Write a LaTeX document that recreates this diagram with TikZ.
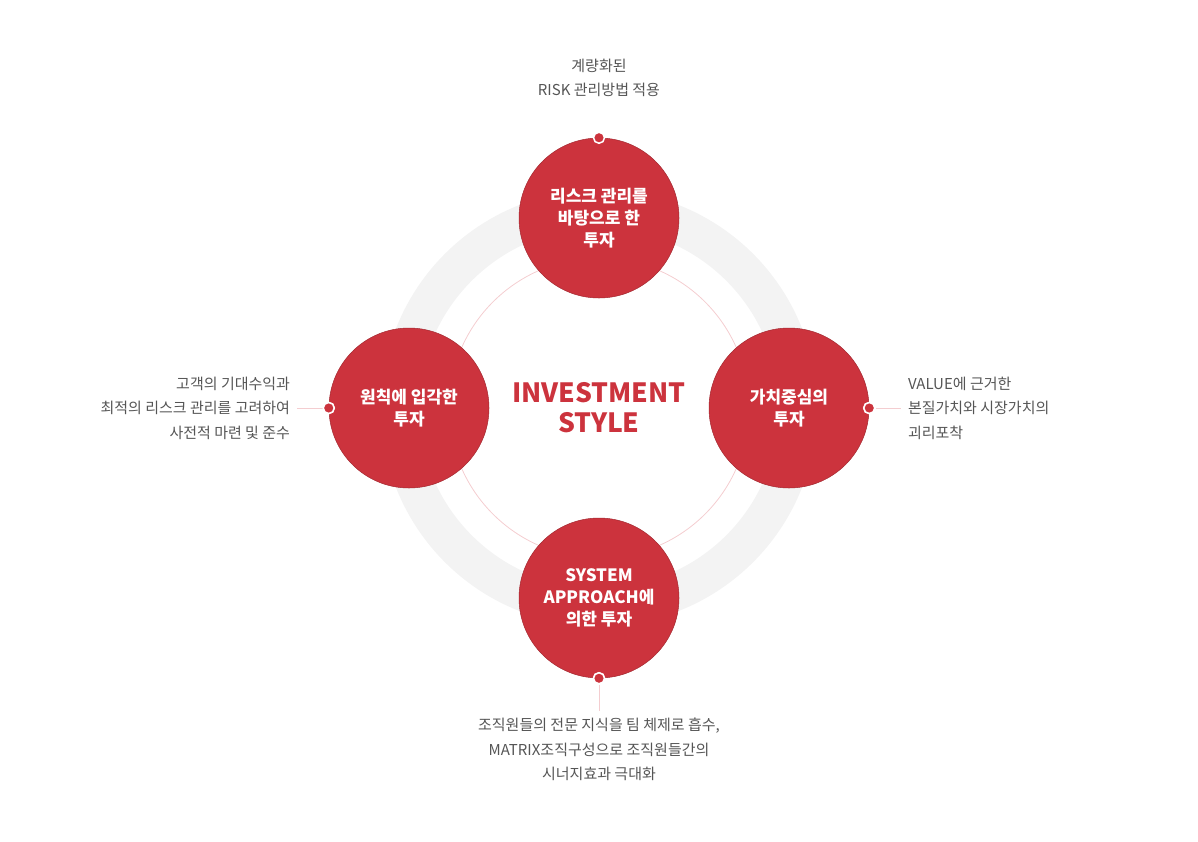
\documentclass[tikz,border=0pt]{standalone}
\usepackage{fontspec}
\setmainfont{Noto Sans CJK KR}
\usetikzlibrary{positioning}

\definecolor{stylered}{HTML}{CC333D}
\definecolor{ringgray}{HTML}{F3F3F3}
\definecolor{linepink}{HTML}{F4CDD0}
\definecolor{notegray}{HTML}{555555}

\begin{document}
\begin{tikzpicture}[x=1pt, y=-1pt,
bigcircle/.style={circle, fill=stylered, draw=stylered!80!black, line width=0.5pt,
  minimum size=160pt, inner sep=0pt, text=white, align=center,
  font=\fontsize{17}{22}\selectfont\bfseries},
dot/.style={circle, fill=stylered, draw=white, line width=1.5pt, minimum size=11pt, inner sep=0pt},
note/.style={text=notegray, inner sep=0pt, outer sep=7pt, font=\fontsize{15}{24.5}\selectfont},
link/.style={linepink, line width=0.8pt}]

\useasboundingbox (0,0) rectangle (1198,841);

\coordinate (c) at (599,408);
\draw[ringgray, line width=38pt] (c) circle[radius=199];
\draw[link] (c) circle[radius=150];

\node[bigcircle] (risk) at (599,218) {리스크 관리를\\바탕으로 한\\투자};
\node[bigcircle] (principle) at (409,408) {원칙에 입각한\\투자};
\node[bigcircle] (value) at (789,408) {가치중심의\\투자};
\node[bigcircle] (system) at (599,598) {SYSTEM\\APPROACH에\\의한 투자};

\node[text=stylered, align=center, font=\fontsize{26.5}{30}\selectfont\bfseries] (title) at (c) {INVESTMENT\\STYLE};

\node[note, align=center] (risknote) at (599,78) {계량화된\\RISK 관리방법 적용};
\node[note, align=right, anchor=east] (principlenote) at (297,408) {고객의 기대수익과\\최적의 리스크 관리를 고려하여\\사전적 마련 및 준수};
\node[note, align=left, anchor=west] (valuenote) at (901,408) {VALUE에 근거한\\본질가치와 시장가치의\\괴리포착};
\node[note, align=center, anchor=north] (systemnote) at (599,711) {조직원들의 전문 지식을 팀 체제로 흡수,\\MATRIX조직구성으로 조직원들간의\\시너지효과 극대화};

\node[dot] (riskdot) at (risk.north) {};
\node[dot] (principledot) at (principle.west) {};
\node[dot] (valuedot) at (value.east) {};
\node[dot] (systemdot) at (system.south) {};

\draw[link] (principledot) -- (principlenote);
\draw[link] (valuedot) -- (valuenote);
\draw[link] (systemdot) -- (systemnote);

\node[dot] at (principledot) {};
\node[dot] at (valuedot) {};
\node[dot] at (systemdot) {};

\end{tikzpicture}
\end{document}
